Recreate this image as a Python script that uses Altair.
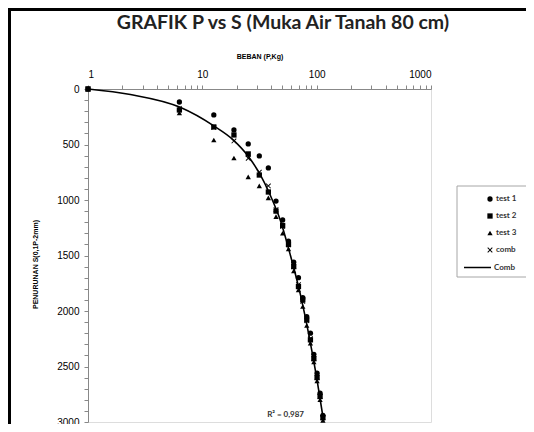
import altair as alt
import pandas as pd

# ---- data ----
loads = [1, 6.3, 12.6, 18.9, 25.2, 31.5, 37.8, 44.1, 50.4, 56.7, 63.0, 69.3,
         75.6, 81.9, 88.2, 94.5, 100.8, 107.1, 113.4]
test1 = [0, 117, 234, 369, 495, 603, 711, 1010, 1180, 1370, 1560, 1700,
         1880, 2050, 2200, 2390, 2560, 2740, 2940]
test2 = [0, 189, 342, 414, 585, 775, 928, 1100, 1230, 1400, 1600, 1780,
         1900, 2080, 2260, 2430, 2600, 2770, 2960]
test3 = [0, 216, 459, 621, 792, 873, 981, 1150, 1300, 1440, 1640, 1810,
         1960, 2130, 2290, 2460, 2630, 2800, 2985]
comb = [0, 174, 345, 468, 624, 750, 873, 1087, 1237, 1403, 1600, 1763,
        1913, 2087, 2250, 2427, 2597, 2770, 2962]

# trend line (Comb)
curve_p = [1, 2.35, 6.4, 12.5, 18.7, 25.4, 32, 39, 48, 59, 72, 86, 100, 115]
curve_s = [0, 50, 165, 330, 460, 610, 770, 950, 1180, 1500, 1850, 2230, 2600, 2990]

point_series = ["test 1", "test 2", "test 3", "comb"]
line_series = ["Comb"]
r2_label = ["R² = 0,987"]
r2_p = [53.5]
r2_s = [2937]

title_text = ["GRAFIK P vs S (Muka Air Tanah 80 cm)"]
x_title = "BEBAN (P,Kg)"
y_title = "PENURUNAN S(0,1P-2mm)"

# ---- tables ----
rows = []
for name, vals in zip(point_series, [test1, test2, test3, comb]):
    for p, s in zip(loads, vals):
        rows.append({"P": p, "S": s, "series": name})
pts = pd.DataFrame(rows)
line_df = pd.DataFrame({"P": curve_p, "S": curve_s, "series": line_series * len(curve_p)})
r2_df = pd.DataFrame({"P": r2_p, "S": r2_s, "t": r2_label})
title_df = pd.DataFrame({"t": title_text})

FONT = "Lato"
xpath = ("M-1,-0.75L-0.75,-1L0,-0.25L0.75,-1L1,-0.75L0.25,0L1,0.75L0.75,1"
         "L0,0.25L-0.75,1L-1,0.75L-0.25,0Z")

x_ticks = [1, 2, 3, 4, 5, 6, 7, 8, 9, 10, 20, 30, 40, 50, 60, 70, 80, 90,
           100, 200, 300, 400, 500, 600, 700, 800, 900, 1000]
y_ticks = list(range(0, 3001, 100))

xscale = alt.Scale(type="log", domain=[1, 1000], nice=False)
yscale = alt.Scale(domain=[0, 3000], reverse=True, nice=False)


def xaxis():
    return alt.Axis(orient="top", values=x_ticks, format="d",
                    labelExpr="(datum.value==1||datum.value==10||datum.value==100||datum.value==1000) ? datum.label : ''",
                    labelOverlap=False, tickSize=4, labelPadding=6,
                    title=x_title, titleFontSize=7, titleFontWeight="bold",
                    titlePadding=10, grid=False)


def yaxis():
    return alt.Axis(orient="left", values=y_ticks, format="d",
                    labelExpr="(datum.value % 500 == 0) ? datum.label : ''",
                    labelOverlap=False, tickSize=4, labelPadding=5,
                    title=y_title, titleFontSize=7, titleFontWeight="bold",
                    titleX=-53, titleY=175, titleAngle=-90, titleBaseline="middle",
                    titleAlign="center", grid=False)


legend_box = alt.Chart(r2_df).mark_rect(fill="white", stroke="#a6a6a6", strokeWidth=1).encode(
    x=alt.value(369), x2=alt.value(440), y=alt.value(97), y2=alt.value(188))

trend = alt.Chart(line_df).mark_line(strokeWidth=1.6, interpolate="monotone").encode(
    x=alt.X("P:Q", scale=xscale, axis=xaxis()),
    y=alt.Y("S:Q", scale=yscale, axis=yaxis()),
    color=alt.Color("series:N", scale=alt.Scale(domain=line_series, range=["black"]),
                    legend=alt.Legend(title=None, orient="none", legendX=375, legendY=164,
                                      padding=0, symbolSize=729, symbolStrokeWidth=1.5,
                                      labelFont=FONT, labelFontSize=8, labelFontWeight="bold",
                                      labelColor="#333333", labelOffset=2)),
)

points = alt.Chart(pts).mark_point(filled=True, color="black", opacity=1, size=28).encode(
    x=alt.X("P:Q", scale=xscale, axis=xaxis()),
    y=alt.Y("S:Q", scale=yscale, axis=yaxis()),
    shape=alt.Shape("series:N",
                    scale=alt.Scale(domain=point_series,
                                    range=["circle", "square", "triangle-up", xpath]),
                    legend=alt.Legend(title=None, orient="none", legendX=398, legendY=106,
                                      padding=0, rowPadding=5, symbolSize=28,
                                      symbolFillColor="black",
                                      labelFont=FONT, labelFontSize=8, labelFontWeight="bold",
                                      labelColor="#333333", labelOffset=2)),
)

r2 = alt.Chart(r2_df).mark_text(font=FONT, fontSize=8, color="#333333",
                                fontWeight="bold").encode(
    x=alt.X("P:Q", scale=xscale, axis=xaxis()),
    y=alt.Y("S:Q", scale=yscale, axis=yaxis()),
    text="t:N",
)

title_mark = alt.Chart(title_df).mark_text(font=FONT, fontSize=19.5, fontWeight="bold",
                                           color="#222222", align="center",
                                           baseline="middle").encode(
    x=alt.value(195), y=alt.value(-66), text="t:N")

frame_left = alt.Chart(r2_df).mark_rule(color="black", strokeWidth=3).encode(
    x=alt.value(-78.5), y=alt.value(-81), y2=alt.value(340))
frame_top = alt.Chart(r2_df).mark_rule(color="black", strokeWidth=3).encode(
    y=alt.value(-79.5), x=alt.value(-80), x2=alt.value(445))

chart = alt.layer(legend_box, trend, points, r2, title_mark, frame_left, frame_top).properties(
    width=343, height=333,
    padding={"left": 80, "top": 81, "right": 95, "bottom": 2},
    autosize=alt.AutoSizeParams(type="none"),
).configure_view(stroke="#a0a0a0", strokeWidth=1).configure_axis(
    labelFont=FONT, titleFont=FONT, labelFontSize=9, labelColor="#404040",
    titleColor="#333333", domainColor="#868686", tickColor="#868686",
).configure(background="white")

chart.save("out.html", embed_options={"renderer": "svg", "actions": False})
